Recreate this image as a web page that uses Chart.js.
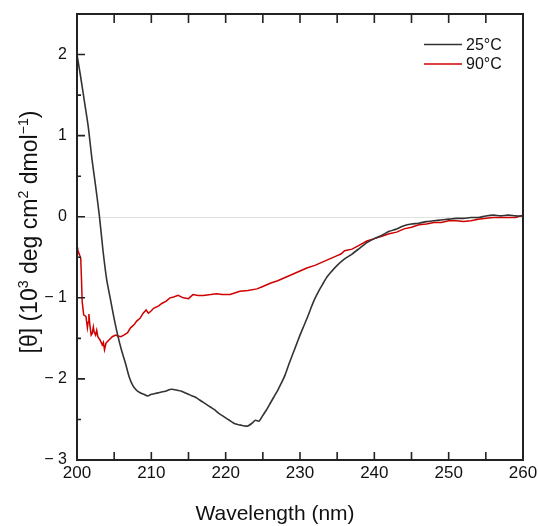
<!DOCTYPE html>
<html>
<head>
<meta charset="utf-8">
<script src="https://cdn.jsdelivr.net/npm/chart.js@4.4.1/dist/chart.umd.min.js"></script>
<style>
html,body{margin:0;padding:0;background:#fff;}
#c{display:block;}
</style>
</head>
<body>
<canvas id="c" width="538" height="526"></canvas>
<script>
// ---- data ----
const wl25 = [200,200.5,201,201.5,202,202.5,203,203.5,204,204.5,205,205.5,206,206.5,207,207.5,208,208.5,209,209.5,210,210.5,211,212,212.5,213,213.5,214,214.5,215,215.5,216,216.5,217,217.5,218,218.5,219,219.5,220,220.5,221,221.5,222,222.5,223,223.5,224,224.5,225,225.5,226,226.5,227,227.5,228,228.5,229,229.5,230,230.5,231,231.5,232,232.5,233,233.5,234,235,236,237,238,239,240,241,242,243,244,245,246,247,248,249,250,251,252,253,254,255,256,257,258,259,260];
const cd25 = [2.0,1.72,1.42,1.12,0.72,0.38,0.02,-0.42,-0.78,-1.02,-1.26,-1.47,-1.65,-1.80,-1.97,-2.08,-2.14,-2.17,-2.19,-2.21,-2.19,-2.18,-2.17,-2.15,-2.13,-2.13,-2.14,-2.15,-2.17,-2.19,-2.21,-2.23,-2.26,-2.29,-2.32,-2.35,-2.38,-2.42,-2.45,-2.48,-2.51,-2.54,-2.56,-2.57,-2.58,-2.58,-2.55,-2.51,-2.52,-2.45,-2.38,-2.30,-2.22,-2.14,-2.05,-1.95,-1.82,-1.70,-1.58,-1.46,-1.35,-1.24,-1.12,-1.01,-0.92,-0.84,-0.76,-0.70,-0.60,-0.52,-0.46,-0.39,-0.32,-0.27,-0.23,-0.18,-0.15,-0.11,-0.09,-0.08,-0.06,-0.05,-0.04,-0.03,-0.02,-0.02,-0.01,-0.01,0.01,0.02,0.01,0.02,0.01,0.01];
const wl90 = [200,200.1,200.5,200.6,200.7,200.9,201.2,201.4,201.5,201.6,201.75,201.9,202.05,202.2,202.3,202.5,202.65,202.8,203.1,203.4,203.55,203.7,203.9,204.1,204.3,204.75,205.2,205.5,205.9,206.3,206.8,207.2,207.7,208,208.5,208.9,209.3,209.6,210,210.3,211,211.4,212,212.5,213,213.6,214.3,215,215.6,216.3,217,218,218.8,219.5,220.6,221.2,221.9,223,224.2,225,226,227,228,229,230,231,232,233,234,235,235.5,236,237,238,239,240,241,242,243,244,245,246,247,248,249,250,251,252,253,254,255,256,257,258,259,260];
const cd90 = [-0.38,-0.41,-0.51,-0.76,-1.05,-1.21,-1.23,-1.37,-1.30,-1.20,-1.35,-1.46,-1.44,-1.36,-1.42,-1.46,-1.40,-1.48,-1.52,-1.58,-1.55,-1.64,-1.56,-1.54,-1.52,-1.48,-1.46,-1.47,-1.48,-1.46,-1.43,-1.37,-1.33,-1.29,-1.25,-1.19,-1.15,-1.19,-1.16,-1.13,-1.10,-1.07,-1.04,-1.00,-0.99,-0.97,-1.00,-1.01,-0.96,-0.97,-0.97,-0.96,-0.95,-0.96,-0.96,-0.94,-0.92,-0.91,-0.89,-0.86,-0.82,-0.79,-0.75,-0.71,-0.67,-0.63,-0.60,-0.56,-0.52,-0.48,-0.46,-0.42,-0.40,-0.35,-0.30,-0.27,-0.24,-0.21,-0.19,-0.15,-0.13,-0.10,-0.09,-0.07,-0.07,-0.05,-0.05,-0.06,-0.05,-0.03,-0.02,-0.01,-0.01,-0.01,-0.01,0.02];
const seriesNames = ['25°C','90°C'];
const seriesColors = ['#333333','#d00000'];
const xTickLabels = [200,210,220,230,240,250,260];
const yTickLabels = [-3,-2,-1,0,1,2];

const FONT = '"Liberation Sans", Arial, sans-serif';

function drawRich(ctx, segs, x, y, size, align) {
  let w = 0;
  const widths = segs.map(([t, s]) => {
    ctx.font = (s ? size*0.62 : size) + 'px ' + FONT;
    const m = ctx.measureText(t).width; w += m; return m;
  });
  let cx = align === 'center' ? x - w/2 : x;
  segs.forEach(([t, s], i) => {
    ctx.font = (s ? size*0.62 : size) + 'px ' + FONT;
    ctx.fillText(t, cx, s ? y - size*0.38 : y);
    cx += widths[i];
  });
}

const deco = {
  id: 'deco',
  beforeDatasetsDraw(chart) {
    const {ctx, chartArea: a, scales: {x, y}} = chart;
    ctx.save();
    ctx.strokeStyle = '#e2e2e2';
    ctx.lineWidth = 1;
    const y0 = Math.round(y.getPixelForValue(0)) + 0.5;
    ctx.beginPath(); ctx.moveTo(a.left, y0); ctx.lineTo(a.right, y0); ctx.stroke();
    ctx.restore();
  },
  afterDatasetsDraw(chart) {
    const {ctx, chartArea: a, scales: {x, y}} = chart;
    ctx.save();
    ctx.strokeStyle = '#222';
    ctx.lineWidth = 2;
    ctx.strokeRect(a.left, a.top, a.right - a.left, a.bottom - a.top);
    ctx.lineWidth = 1.6;
    ctx.beginPath();
    for (let v = 205; v < 260; v += 5) {
      const px = x.getPixelForValue(v);
      ctx.moveTo(px, a.bottom); ctx.lineTo(px, a.bottom - 8);
      ctx.moveTo(px, a.top); ctx.lineTo(px, a.top + 9);
    }
    for (let v = -2.5; v <= 2.5; v += 0.5) {
      const py = y.getPixelForValue(v);
      const major = Math.abs(v - Math.round(v)) < 1e-6;
      ctx.moveTo(a.left, py); ctx.lineTo(a.left + (major ? 8 : 4), py);
    }
    ctx.stroke();

    // legend
    ctx.lineWidth = 1.5;
    ctx.textBaseline = 'middle';
    ctx.textAlign = 'left';
    ctx.font = '16px ' + FONT;
    const ly = [44.5, 64];
    seriesNames.forEach((n, i) => {
      ctx.strokeStyle = seriesColors[i];
      ctx.beginPath(); ctx.moveTo(424, ly[i]); ctx.lineTo(462, ly[i]); ctx.stroke();
      ctx.fillStyle = '#111';
      ctx.fillText(n, 466, ly[i] + 1);
    });

    // axis titles
    ctx.fillStyle = '#111';
    ctx.textBaseline = 'alphabetic';
    ctx.textAlign = 'left';
    drawRich(ctx, [['Wavelength (nm)', false]], 275, 520, 21, 'center');
    ctx.translate(37, 232);
    ctx.rotate(-Math.PI/2);
    drawRich(ctx, [['[θ] (10', false], ['3', true], [' deg cm', false], ['2', true], [' dmol', false], ['−1', true], [')', false]], 0, 0, 23, 'center');
    ctx.restore();
  }
};

new Chart(document.getElementById('c'), {
  type: 'line',
  data: {
    datasets: [
      { label: seriesNames[0], data: wl25.map((w, i) => ({x: w, y: cd25[i]})), borderColor: seriesColors[0], borderWidth: 1.6, pointRadius: 0, tension: 0.2, fill: false },
      { label: seriesNames[1], data: wl90.map((w, i) => ({x: w, y: cd90[i]})), borderColor: seriesColors[1], borderWidth: 1.5, pointRadius: 0, tension: 0, fill: false }
    ]
  },
  options: {
    responsive: false,
    animation: false,
    layout: { padding: { top: 14, right: 15, left: 0, bottom: 0 } },
    plugins: { legend: { display: false }, tooltip: { enabled: false } },
    scales: {
      x: {
        type: 'linear', min: 200, max: 260,
        afterFit(s) { s.height = 66; s.paddingLeft = 0; s.paddingRight = 0; },
        grid: { display: false, drawTicks: false },
        border: { display: false },
        afterBuildTicks(s) { s.ticks = xTickLabels.map(v => ({value: v})); },
        ticks: { padding: 3, color: '#111', font: { family: FONT, size: 17 }, maxRotation: 0, callback: v => String(v) }
      },
      y: {
        min: -3, max: 2.5,
        afterFit(s) { s.width = 77; s.paddingTop = 0; s.paddingBottom = 0; },
        grid: { display: false, drawTicks: false },
        border: { display: false },
        afterBuildTicks(s) { s.ticks = yTickLabels.map(v => ({value: v})); },
        ticks: { padding: 10, color: '#111', font: { family: FONT, size: 16 }, callback: v => (v < 0 ? '− ' + Math.abs(v) : String(v)) }
      }
    }
  },
  plugins: [deco]
});
</script>
</body>
</html>
